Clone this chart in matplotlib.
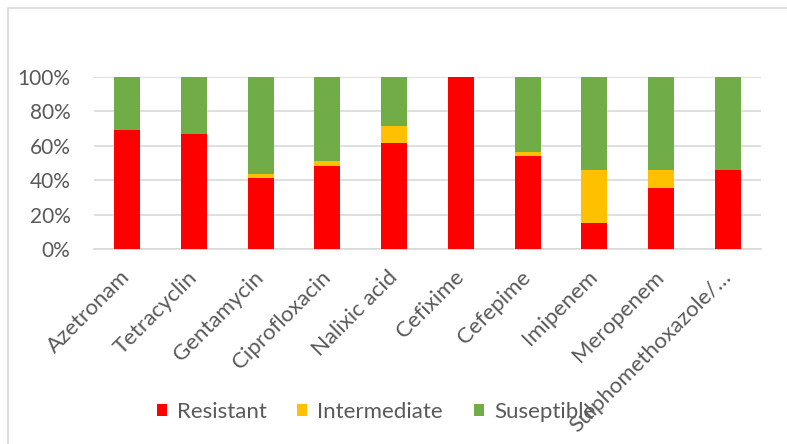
import matplotlib
matplotlib.use("Agg")
import matplotlib.pyplot as plt
from matplotlib.patches import Rectangle
import numpy as np

# Antibiotic susceptibility profile (percent of isolates)
antibiotics = ["Azetronam", "Tetracyclin", "Gentamycin", "Ciprofloxacin",
               "Nalixic acid", "Cefixime", "Cefepime", "Imipenem",
               "Meropenem", "Sulphomethoxazole/…"]
resistant = [69.2, 66.7, 41.2, 48.3, 61.5, 100.0, 53.8, 15.4, 35.7, 45.8]
intermediate = [0.0, 0.0, 2.3, 2.8, 10.0, 0.0, 2.5, 30.4, 10.1, 0.0]
susceptible = [100 - r - i for r, i in zip(resistant, intermediate)]
series_names = ["Resistant", "Intermediate", "Suseptible"]
series_colors = ["#FF0000", "#FFC000", "#70AD47"]
yticks = [0, 20, 40, 60, 80, 100]
ytick_labels = ["0%", "20%", "40%", "60%", "80%", "100%"]

plt.rcParams["font.family"] = ["Lato", "DejaVu Sans"]
text_color = "#595959"

fig = plt.figure(figsize=(7.87, 4.44), dpi=100)
ax = fig.add_axes([94 / 787, 1 - 249 / 444, 667 / 787, 172 / 444])

# chart-area border
fig.patches.append(Rectangle((8 / 787, -0.1), 1.1, 1 - 8 / 444 + 0.1,
                             transform=fig.transFigure, fill=False,
                             edgecolor="#d9d9d9", linewidth=1.2))

x = np.arange(len(antibiotics))
bottom = np.zeros(len(antibiotics))
for name, vals, col in zip(series_names, [resistant, intermediate, susceptible], series_colors):
    ax.bar(x, vals, width=0.39, bottom=bottom, color=col, label=name, zorder=3)
    bottom += np.array(vals)

ax.set_xlim(-0.5, len(antibiotics) - 0.5)
ax.set_ylim(0, 100)
ax.set_yticks(yticks)
ax.set_yticklabels(ytick_labels)
ax.yaxis.grid(True, color="#d9d9d9", linewidth=1.2, zorder=0)
ax.set_axisbelow(True)
for s in ["top", "right", "left"]:
    ax.spines[s].set_visible(False)
ax.spines["bottom"].set_color("#d9d9d9")
ax.spines["bottom"].set_linewidth(1.2)
ax.tick_params(axis="both", length=0, labelcolor=text_color)
ax.tick_params(axis="y", pad=17, labelsize=15)

ax.set_xticks(x)
ax.set_xticklabels(antibiotics, rotation=45, ha="right", va="center",
                   rotation_mode="anchor", fontsize=16)
ax.tick_params(axis="x", pad=18)

leg = fig.legend(loc="center", bbox_to_anchor=(376 / 787, 1 - 412 / 444),
                 ncol=3, frameon=False, fontsize=16, labelcolor=text_color,
                 handlelength=0.45, handleheight=0.45, handletextpad=0.45,
                 columnspacing=1.4)

fig.savefig("out.png", dpi=100)
